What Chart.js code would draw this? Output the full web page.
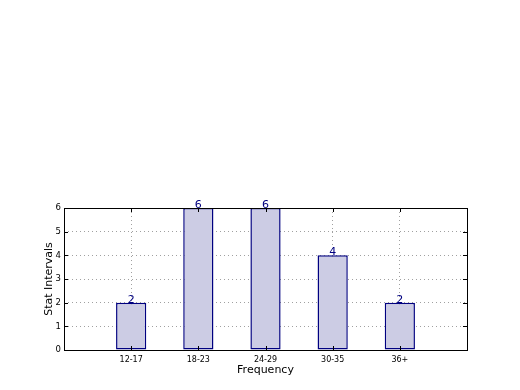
<!DOCTYPE html>
<html>
<head>
<meta charset="utf-8">
<script src="https://cdn.jsdelivr.net/npm/chart.js@4/dist/chart.umd.min.js"></script>
<style>
  html, body { margin: 0; padding: 0; background: #fff; }
  #chart { display: block; }
</style>
</head>
<body>
<canvas id="chart" width="520" height="390"></canvas>
<script>
// Age groups along the bottom, count in each group
const categories = ['12-17', '18-23', '24-29', '30-35', '36+'];
const counts = [2, 6, 6, 4, 2];
const yTicks = [0, 1, 2, 3, 4, 5, 6];

Chart.defaults.font.family = "'DejaVu Sans', sans-serif";
Chart.defaults.color = '#000';

// Box around the plot + little inward tick marks, and value labels on top of bars
const frameAndLabels = {
    id: 'frameAndLabels',
    afterDraw(chart) {
        const { ctx, chartArea: a, scales } = chart;
        ctx.save();
        ctx.strokeStyle = '#000';
        ctx.lineWidth = 1;
        ctx.strokeRect(Math.round(a.left) + 0.5, Math.round(a.top) + 0.5,
            Math.round(a.right - a.left), Math.round(a.bottom - a.top));

        ctx.beginPath();
        yTicks.forEach(v => {
            const y = Math.round(scales.y.getPixelForValue(v)) + 0.5;
            ctx.moveTo(a.left, y); ctx.lineTo(a.left + 4, y);
            ctx.moveTo(a.right, y); ctx.lineTo(a.right - 4, y);
        });
        categories.forEach((c, i) => {
            const x = Math.round(scales.x.getPixelForValue(i)) + 0.5;
            ctx.moveTo(x, a.bottom); ctx.lineTo(x, a.bottom - 4);
            ctx.moveTo(x, a.top); ctx.lineTo(x, a.top + 4);
        });
        ctx.stroke();

        // numbers sitting on the bars
        ctx.fillStyle = '#000080';
        ctx.font = "11px 'DejaVu Sans'";
        ctx.textAlign = 'center';
        ctx.textBaseline = 'alphabetic';
        chart.getDatasetMeta(0).data.forEach((bar, i) => {
            ctx.fillText(String(counts[i]), bar.x, bar.y);
        });
        ctx.restore();
    }
};

new Chart(document.getElementById('chart'), {
    type: 'bar',
    data: {
        datasets: [{
            data: categories.map((c, i) => ({ x: i, y: counts[i] })),
            backgroundColor: 'rgb(204, 204, 228)',
            borderColor: '#000080',
            borderWidth: 1.5,
            borderSkipped: false,
            barPercentage: 0.45,
            categoryPercentage: 1.0
        }]
    },
    options: {
        responsive: false,
        animation: false,
        layout: { padding: { top: 208, right: 53, left: 43, bottom: 0 } },
        plugins: { legend: { display: false }, tooltip: { enabled: false } },
        scales: {
            x: {
                type: 'linear',
                min: -1,
                max: 5,
                offset: false,
                z: 1,
                afterFit: s => { s.height = 40; },
                border: { display: false, dash: [1, 3] },
                grid: {
                    drawTicks: false,
                    offset: false,
                    color: c => (c.tick && c.tick.value >= 0 && c.tick.value < categories.length) ? '#a0a0a0' : 'rgba(0,0,0,0)',
                    lineWidth: 1
                },
                ticks: {
                    stepSize: 1,
                    padding: 5,
                    font: { size: 8 },
                    callback: v => categories[v] ?? ''
                },
                title: { display: true, text: 'Frequency', font: { size: 11 }, padding: { top: 0, bottom: 13 } }
            },
            y: {
                min: 0,
                max: 6,
                z: 1,
                afterFit: s => { s.width = 21; },
                border: { display: false, dash: [1, 3] },
                grid: {
                    drawTicks: false,
                    color: '#a0a0a0',
                    lineWidth: 1
                },
                ticks: { stepSize: 1, padding: 3, font: { size: 8.5 } },
                title: { display: true, text: 'Stat Intervals', font: { size: 11 }, padding: { top: 0, bottom: 0 } }
            }
        }
    },
    plugins: [frameAndLabels]
});
</script>
</body>
</html>
